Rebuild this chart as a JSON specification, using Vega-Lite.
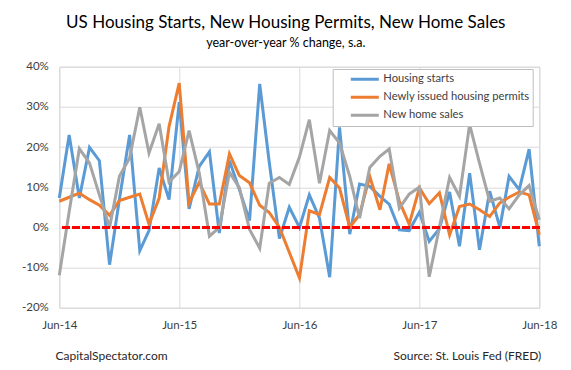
{
  "$schema": "https://vega.github.io/schema/vega-lite/v6.json",
  "width": 480,
  "height": 241,
  "autosize": {"type": "none"},
  "padding": {"left": 59.3, "top": 66.7, "right": 31.7, "bottom": 62.3},
  "background": "white",
  "config": {
    "font": "Lato",
    "view": {"stroke": "#d9d9d9"}
  },
  "title": {
    "text": "US Housing Starts, New Housing Permits, New Home Sales",
    "subtitle": "year-over-year % change, s.a.",
    "font": "Lato",
    "fontSize": 17,
    "fontWeight": "normal",
    "color": "#000000",
    "subtitleFont": "Lato",
    "subtitleFontSize": 12.5,
    "subtitleColor": "#000000",
    "anchor": "middle",
    "dx": -13.5,
    "offset": 10,
    "subtitlePadding": 5
  },
  "data": {
    "values": [
      {"date": "2014-06-01", "Housing starts": 7.3, "Newly issued housing permits": 6.5, "New home sales": -11.9},
      {"date": "2014-07-01", "Housing starts": 23.0, "Newly issued housing permits": 7.5, "New home sales": 3.9},
      {"date": "2014-08-01", "Housing starts": 7.3, "Newly issued housing permits": 8.5, "New home sales": 19.6},
      {"date": "2014-09-01", "Housing starts": 19.9, "Newly issued housing permits": 6.9, "New home sales": 16.0},
      {"date": "2014-10-01", "Housing starts": 16.6, "Newly issued housing permits": 5.5, "New home sales": 8.1},
      {"date": "2014-11-01", "Housing starts": -9.3, "Newly issued housing permits": 3.0, "New home sales": 0.0},
      {"date": "2014-12-01", "Housing starts": 7.0, "Newly issued housing permits": 6.7, "New home sales": 12.7},
      {"date": "2015-01-01", "Housing starts": 23.0, "Newly issued housing permits": 7.5, "New home sales": 17.3},
      {"date": "2015-02-01", "Housing starts": -5.8, "Newly issued housing permits": 8.3, "New home sales": 29.9},
      {"date": "2015-03-01", "Housing starts": -0.8, "Newly issued housing permits": 0.8, "New home sales": 18.5},
      {"date": "2015-04-01", "Housing starts": 14.8, "Newly issued housing permits": 7.3, "New home sales": 25.8},
      {"date": "2015-05-01", "Housing starts": 6.9, "Newly issued housing permits": 25.1, "New home sales": 11.3},
      {"date": "2015-06-01", "Housing starts": 31.2, "Newly issued housing permits": 35.9, "New home sales": 13.9},
      {"date": "2015-07-01", "Housing starts": 4.6, "Newly issued housing permits": 6.1, "New home sales": 24.1},
      {"date": "2015-08-01", "Housing starts": 15.2, "Newly issued housing permits": 11.2, "New home sales": 13.5},
      {"date": "2015-09-01", "Housing starts": 18.8, "Newly issued housing permits": 5.8, "New home sales": -2.2},
      {"date": "2015-10-01", "Housing starts": -1.4, "Newly issued housing permits": 5.8, "New home sales": 0.0},
      {"date": "2015-11-01", "Housing starts": 16.6, "Newly issued housing permits": 18.3, "New home sales": 13.7},
      {"date": "2015-12-01", "Housing starts": 9.4, "Newly issued housing permits": 12.9, "New home sales": 9.9},
      {"date": "2016-01-01", "Housing starts": 1.7, "Newly issued housing permits": 11.1, "New home sales": -0.5},
      {"date": "2016-02-01", "Housing starts": 35.7, "Newly issued housing permits": 5.5, "New home sales": -5.2},
      {"date": "2016-03-01", "Housing starts": 16.2, "Newly issued housing permits": 3.7, "New home sales": 11.0},
      {"date": "2016-04-01", "Housing starts": -2.8, "Newly issued housing permits": 0.0, "New home sales": 12.4},
      {"date": "2016-05-01", "Housing starts": 5.0, "Newly issued housing permits": -6.2, "New home sales": 10.7},
      {"date": "2016-06-01", "Housing starts": 0.0, "Newly issued housing permits": -12.6, "New home sales": 17.5},
      {"date": "2016-07-01", "Housing starts": 8.1, "Newly issued housing permits": 4.1, "New home sales": 26.8},
      {"date": "2016-08-01", "Housing starts": 2.3, "Newly issued housing permits": 3.2, "New home sales": 11.0},
      {"date": "2016-09-01", "Housing starts": -12.4, "Newly issued housing permits": 12.4, "New home sales": 24.1},
      {"date": "2016-10-01", "Housing starts": 24.9, "Newly issued housing permits": 9.8, "New home sales": 21.0},
      {"date": "2016-11-01", "Housing starts": -1.7, "Newly issued housing permits": 0.0, "New home sales": 12.7},
      {"date": "2016-12-01", "Housing starts": 10.8, "Newly issued housing permits": 3.2, "New home sales": 2.3},
      {"date": "2017-01-01", "Housing starts": 10.2, "Newly issued housing permits": 12.7, "New home sales": 14.9},
      {"date": "2017-02-01", "Housing starts": 7.7, "Newly issued housing permits": 4.4, "New home sales": 17.7},
      {"date": "2017-03-01", "Housing starts": 5.8, "Newly issued housing permits": 15.8, "New home sales": 19.5},
      {"date": "2017-04-01", "Housing starts": -0.6, "Newly issued housing permits": 6.5, "New home sales": 4.8},
      {"date": "2017-05-01", "Housing starts": -0.8, "Newly issued housing permits": 0.8, "New home sales": 8.3},
      {"date": "2017-06-01", "Housing starts": 3.8, "Newly issued housing permits": 9.8, "New home sales": 10.0},
      {"date": "2017-07-01", "Housing starts": -3.5, "Newly issued housing permits": 5.9, "New home sales": -12.3},
      {"date": "2017-08-01", "Housing starts": -0.3, "Newly issued housing permits": 8.6, "New home sales": 0.0},
      {"date": "2017-09-01", "Housing starts": 8.8, "Newly issued housing permits": -1.9, "New home sales": 12.4},
      {"date": "2017-10-01", "Housing starts": -4.7, "Newly issued housing permits": 5.2, "New home sales": 7.7},
      {"date": "2017-11-01", "Housing starts": 13.5, "Newly issued housing permits": 5.8, "New home sales": 25.6},
      {"date": "2017-12-01", "Housing starts": -5.6, "Newly issued housing permits": 4.4, "New home sales": 16.0},
      {"date": "2018-01-01", "Housing starts": 9.0, "Newly issued housing permits": 2.7, "New home sales": 6.5},
      {"date": "2018-02-01", "Housing starts": 0.0, "Newly issued housing permits": 6.1, "New home sales": 7.3},
      {"date": "2018-03-01", "Housing starts": 12.7, "Newly issued housing permits": 7.5, "New home sales": 4.6},
      {"date": "2018-04-01", "Housing starts": 9.4, "Newly issued housing permits": 8.8, "New home sales": 8.1},
      {"date": "2018-05-01", "Housing starts": 19.5, "Newly issued housing permits": 8.1, "New home sales": 10.4},
      {"date": "2018-06-01", "Housing starts": -4.7, "Newly issued housing permits": -1.8, "New home sales": 1.9}
    ]
  },
  "layer": [
    {
      "transform": [
        {"fold": ["Housing starts", "Newly issued housing permits", "New home sales"], "as": ["series", "value"]}
      ],
      "mark": {"type": "line", "strokeWidth": 3, "clip": false},
      "encoding": {
        "x": {
          "field": "date",
          "type": "temporal",
          "scale": {
            "type": "utc",
            "domain": [
              {"year": 2014, "month": 6, "date": 1, "utc": true},
              {"year": 2018, "month": 6, "date": 1, "utc": true}
            ],
            "nice": false
          },
          "axis": {
            "values": [
              {"year": 2014, "month": 6, "date": 1, "utc": true},
              {"year": 2015, "month": 6, "date": 1, "utc": true},
              {"year": 2016, "month": 6, "date": 1, "utc": true},
              {"year": 2017, "month": 6, "date": 1, "utc": true},
              {"year": 2018, "month": 6, "date": 1, "utc": true}
            ],
            "labelExpr": "utcFormat(datum.value, '%b-%y')",
            "labelFont": "Lato",
            "labelFontSize": 11.5,
            "labelColor": "#404040",
            "labelPadding": 12,
            "labelFlush": false,
            "labelOverlap": false,
            "grid": true,
            "gridColor": "#d9d9d9",
            "domain": false,
            "ticks": false,
            "title": "CapitalSpectator.com",
            "titleFont": "Lato",
            "titleFontSize": 12,
            "titleFontWeight": "normal",
            "titleColor": "#262626",
            "titleAlign": "left",
            "titleBaseline": "middle",
            "titleX": -4.3,
            "titleY": 47.3
          }
        },
        "y": {
          "field": "value",
          "type": "quantitative",
          "scale": {"domain": [-20, 40], "nice": false},
          "axis": {
            "values": [-20, -10, 0, 10, 20, 30, 40],
            "labelExpr": "datum.value + '%'",
            "labelFont": "Lato",
            "labelFontSize": 11.5,
            "labelColor": "#404040",
            "labelPadding": 11,
            "grid": true,
            "gridColor": "#d9d9d9",
            "domain": false,
            "ticks": false,
            "title": "Source: St. Louis Fed (FRED)",
            "titleFont": "Lato",
            "titleFontSize": 12,
            "titleFontWeight": "normal",
            "titleColor": "#262626",
            "titleAngle": 0,
            "titleAlign": "right",
            "titleBaseline": "middle",
            "titleX": 481.5,
            "titleY": 288.3
          }
        },
        "color": {
          "field": "series",
          "type": "nominal",
          "scale": {
            "domain": ["Housing starts", "Newly issued housing permits", "New home sales"],
            "range": ["#5b9bd5", "#ed7d31", "#a5a5a5"]
          },
          "legend": {
            "orient": "none",
            "legendX": 273.4,
            "legendY": 2.3,
            "title": null,
            "symbolType": "stroke",
            "symbolSize": 784,
            "symbolStrokeWidth": 3,
            "clipHeight": 14.5,
            "rowPadding": 3,
            "padding": 3,
            "symbolOffset": 13.6,
            "labelOffset": 3,
            "labelFont": "Lato",
            "labelFontSize": 11.2,
            "labelColor": "#404040",
            "labelLimit": 300,
            "strokeColor": "#bfbfbf",
            "fillColor": "white"
          }
        }
      }
    },
    {
      "mark": {"type": "rule", "color": "#ff0000", "strokeWidth": 2.5, "strokeDash": [7, 3]},
      "encoding": {"y": {"datum": 0}}
    }
  ]
}
